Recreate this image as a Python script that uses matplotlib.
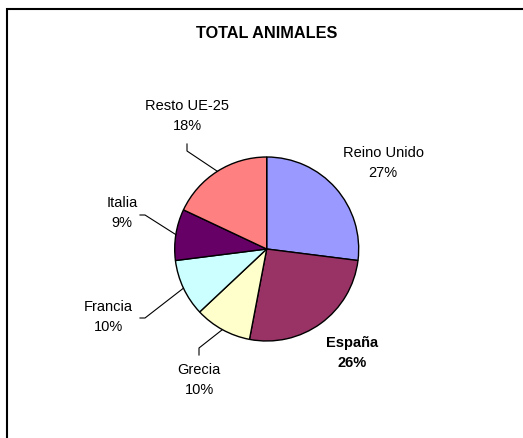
import numpy as np
import matplotlib.pyplot as plt
from matplotlib.patches import Rectangle

plt.rcParams['font.family'] = ['Liberation Sans', 'DejaVu Sans']

# Share of total animals by country
countries = ["Reino Unido", "España", "Grecia", "Francia", "Italia", "Resto UE-25"]
shares = [27, 26, 10, 10, 9, 18]
colors = ["#9999FF", "#993366", "#FFFFCC", "#CCFFFF", "#660066", "#FF8080"]

W, H = 523, 439
fig = plt.figure(figsize=(W / 100, H / 100), dpi=100)
ax = fig.add_axes([0, 0, 1, 1])
ax.set_xlim(0, W)
ax.set_ylim(0, H)
ax.axis("off")

# outer chart frame (runs off the right and bottom edges)
ax.add_patch(Rectangle((7, -20), W + 20, H - 9.5 + 20, fill=False, lw=1.5, ec="black"))

ax.text(267, H - 33, "TOTAL ANIMALES", ha="center", va="center",
        fontsize=11.7, fontweight="bold")

cx, cy, r = 266.7, H - 250, 92
wedges, _ = ax.pie(shares, colors=colors, startangle=90, counterclock=False,
                   center=(cx, cy), radius=r,
                   wedgeprops=dict(edgecolor="black", linewidth=1.0))
ax.set_xlim(0, W)
ax.set_ylim(0, H)
ax.set_aspect("equal")

# label text centre, elbow of the leader line, end of leader (None = no leader)
label_pos = {
    "Reino Unido": ((383, H - 163), None, None),
    "España": ((352, H - 353), None, None),
    "Grecia": ((199, H - 380), (199, H - 349), (199, H - 356)),
    "Francia": ((108, H - 317), (145, H - 319), (140, H - 319)),
    "Italia": ((122, H - 213), (145, H - 216), (140, H - 216)),
    "Resto UE-25": ((187, H - 116), (187, H - 152), (187, H - 145)),
}

total = sum(shares)
for w, name, val in zip(wedges, countries, shares):
    (tx, ty), elbow, end = label_pos[name]
    weight = "bold" if name == "España" else "normal"
    ax.text(tx, ty, f"{name}\n{round(100 * val / total)}%", ha="center", va="center",
            fontsize=10.5, fontweight=weight, linespacing=1.55)
    if elbow is not None:
        mid = np.deg2rad((w.theta1 + w.theta2) / 2)
        rx, ry = cx + r * np.cos(mid), cy + r * np.sin(mid)
        ax.plot([rx, elbow[0], end[0]], [ry, elbow[1], end[1]], color="black", lw=0.8)

fig.savefig("out.png", dpi=100)
